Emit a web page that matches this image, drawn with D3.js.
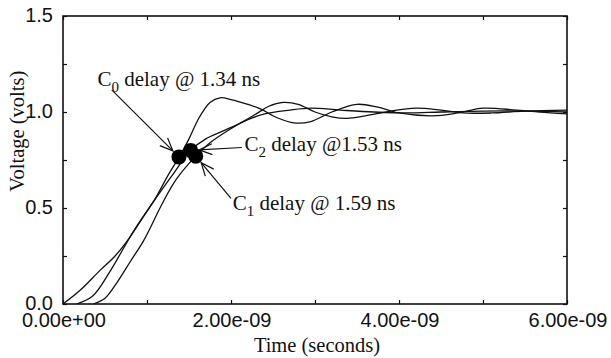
<!DOCTYPE html>
<html>
<head>
<meta charset="utf-8">
<script src="https://cdn.jsdelivr.net/npm/d3@7"></script>
<style>
  body { margin: 0; background: #fff; }
  .tick-label { font-family: "Liberation Sans", Arial, sans-serif; font-size: 20px; fill: #111; }
  .title { font-family: "Liberation Serif", "Times New Roman", serif; font-size: 20.5px; fill: #111; }
  .note { font-family: "Liberation Serif", "Times New Roman", serif; font-size: 21px; fill: #111; }
</style>
</head>
<body>
<svg id="chart" width="611" height="358"></svg>
<script>
// time in ns, voltage in volts
var c0Times = [0, 0.2, 0.44, 0.62, 0.8, 0.95, 1.1, 1.25, 1.39, 1.5, 1.62, 1.75, 1.87, 2.0, 2.2, 2.35, 2.55, 2.75, 2.95, 3.2, 3.5, 3.75, 4.0, 4.4, 4.7, 5.0, 5.4, 5.8, 6.0];
var c0Volts = [0, 0.07, 0.175, 0.25, 0.35, 0.45, 0.55, 0.67, 0.77, 0.86, 0.97, 1.05, 1.074, 1.065, 1.04, 1.016, 0.97, 0.943, 0.95, 1.0, 1.04, 1.025, 0.995, 0.98, 0.995, 1.02, 1.01, 0.995, 0.99];

var c2Times = [0.16, 0.35, 0.56, 0.84, 1.12, 1.3, 1.52, 1.7, 1.9, 2.1, 2.3, 2.45, 2.62, 2.8, 3.0, 3.2, 3.38, 3.6, 3.9, 4.2, 4.5, 4.76, 5.1, 5.5, 6.0];
var c2Volts = [0, 0.04, 0.17, 0.38, 0.56, 0.67, 0.80, 0.86, 0.9, 0.94, 0.99, 1.03, 1.05, 1.04, 1.0, 0.975, 0.967, 0.98, 1.005, 1.02, 1.01, 0.995, 0.995, 1.005, 1.01];

var c1Times = [0.36, 0.5, 0.64, 0.8, 0.96, 1.19, 1.35, 1.58, 1.75, 1.95, 2.15, 2.4, 2.7, 2.95, 3.3, 3.7, 4.1, 4.5, 5.0, 5.5, 6.0];
var c1Volts = [0, 0.03, 0.11, 0.22, 0.33, 0.53, 0.65, 0.77, 0.84, 0.9, 0.95, 0.99, 1.01, 1.02, 1.01, 1.0, 0.995, 1.0, 1.005, 1.005, 1.0];

// delay markers
var markerNames = ["0", "2", "1"];
var markerLabels = [" delay @ 1.34 ns", " delay @1.53 ns", " delay @ 1.59 ns"];
var markerTimes = [1.38, 1.52, 1.58];
var markerVolts = [0.766, 0.80, 0.77];
// where each label sits (time, volts) and where its arrow starts
var labelTimes = [0.41, 2.16, 2.02];
var labelVolts = [1.135, 0.795, 0.49];
var arrowFromTimes = [0.58, 2.13, 2.0];
var arrowFromVolts = [1.115, 0.815, 0.55];

var xTicks = [0, 1, 2, 3, 4, 5, 6];
var xTickLabels = ["0.00e+00", "", "2.00e-09", "", "4.00e-09", "", "6.00e-09"];
var yTicks = [0, 0.25, 0.5, 0.75, 1.0, 1.25, 1.5];
var yTickLabels = ["0.0", "", "0.5", "", "1.0", "", "1.5"];

var svg = d3.select("#chart");

var margin = { top: 16, right: 44, bottom: 54, left: 63 };
var width = 611 - margin.left - margin.right;
var height = 358 - margin.top - margin.bottom;

var x = d3.scaleLinear().domain([0, 6]).range([margin.left, margin.left + width]);
var y = d3.scaleLinear().domain([0, 1.5]).range([margin.top + height, margin.top]);

var tickLen = 4;

// ticks, all pointing into the plot
function drawAxis(axis, pos) {
  var g = svg.append("g").attr("transform", pos).call(axis);
  g.select(".domain").remove();
  g.selectAll(".tick line").attr("stroke", "#111").attr("stroke-width", 1.2);
  g.selectAll(".tick text").remove();
}
drawAxis(d3.axisBottom(x).tickValues(xTicks).tickSizeInner(-tickLen).tickSizeOuter(0), "translate(0," + y(0) + ")");
drawAxis(d3.axisTop(x).tickValues(xTicks).tickSizeInner(-tickLen).tickSizeOuter(0), "translate(0," + y(1.5) + ")");
drawAxis(d3.axisLeft(y).tickValues(yTicks).tickSizeInner(-tickLen).tickSizeOuter(0), "translate(" + x(0) + ",0)");
drawAxis(d3.axisRight(y).tickValues(yTicks).tickSizeInner(-tickLen).tickSizeOuter(0), "translate(" + x(6) + ",0)");

svg.append("rect")
  .attr("x", x(0)).attr("y", y(1.5))
  .attr("width", x(6) - x(0)).attr("height", y(0) - y(1.5))
  .attr("fill", "none").attr("stroke", "#111").attr("stroke-width", 1.6);

// tick labels
svg.selectAll(".xl").data(xTicks).enter().append("text")
  .attr("class", "tick-label")
  .attr("x", function(d) { return x(d) + 1; })
  .attr("y", y(0) + 23)
  .attr("text-anchor", "middle")
  .text(function(d, i) { return xTickLabels[i]; });

svg.selectAll(".yl").data(yTicks).enter().append("text")
  .attr("class", "tick-label")
  .attr("x", x(0) - 10)
  .attr("y", function(d) { return y(d) + 6; })
  .attr("text-anchor", "end")
  .text(function(d, i) { return yTickLabels[i]; });

// axis titles
svg.append("text").attr("class", "title")
  .attr("x", 317).attr("y", 352)
  .attr("text-anchor", "middle")
  .text("Time (seconds)");

svg.append("text").attr("class", "title")
  .attr("transform", "translate(24," + y(0.9) + ") rotate(-90)")
  .attr("text-anchor", "middle")
  .text("Voltage (volts)");

// waveforms
var line = d3.line()
  .x(function(d) { return x(d[0]); })
  .y(function(d) { return y(d[1]); })
  .curve(d3.curveCatmullRom.alpha(0.5));

[[c0Times, c0Volts], [c2Times, c2Volts], [c1Times, c1Volts]].forEach(function(s) {
  svg.append("path")
    .datum(d3.zip(s[0], s[1]))
    .attr("d", line)
    .attr("fill", "none")
    .attr("stroke", "#111")
    .attr("stroke-width", 1.3);
});

// arrow head
svg.append("defs").append("marker")
  .attr("id", "arrow")
  .attr("viewBox", "-14 -7 16 14")
  .attr("refX", 0).attr("refY", 0)
  .attr("markerWidth", 16).attr("markerHeight", 14)
  .attr("markerUnits", "userSpaceOnUse")
  .attr("orient", "auto")
  .append("path")
  .attr("d", "M-13,-5.5 L0,0 L-13,5.5")
  .attr("fill", "none")
  .attr("stroke", "#111")
  .attr("stroke-width", 1.2);

var dotR = 7.5;

markerTimes.forEach(function(t, i) {
  var x1 = x(arrowFromTimes[i]), y1 = y(arrowFromVolts[i]);
  var cx = x(t), cy = y(markerVolts[i]);
  var dx = cx - x1, dy = cy - y1, len = Math.sqrt(dx * dx + dy * dy);
  var stop = len - dotR - 1;
  svg.append("line")
    .attr("x1", x1).attr("y1", y1)
    .attr("x2", x1 + dx * stop / len).attr("y2", y1 + dy * stop / len)
    .attr("stroke", "#111").attr("stroke-width", 1.2)
    .attr("marker-end", "url(#arrow)");
});

svg.selectAll(".dot").data(markerTimes).enter().append("circle")
  .attr("cx", function(d) { return x(d); })
  .attr("cy", function(d, i) { return y(markerVolts[i]); })
  .attr("r", dotR)
  .attr("fill", "#000");

// labels with subscripts
markerNames.forEach(function(n, i) {
  var t = svg.append("text").attr("class", "note")
    .attr("x", x(labelTimes[i])).attr("y", y(labelVolts[i]));
  t.append("tspan").text("C");
  t.append("tspan").attr("dy", 6).attr("font-size", 15).text(n);
  t.append("tspan").attr("dy", -6).text(markerLabels[i]);
});
</script>
</body>
</html>
